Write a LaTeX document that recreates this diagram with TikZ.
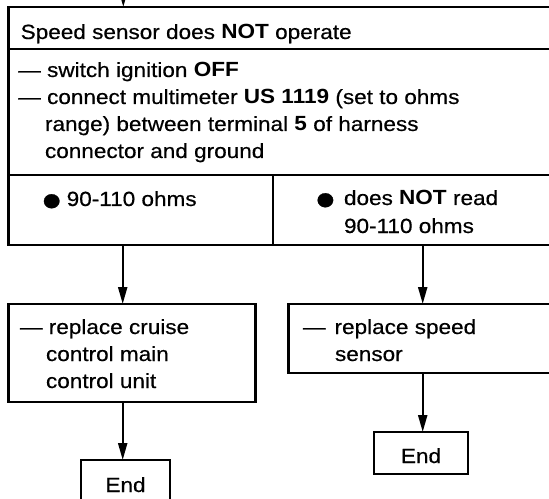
\documentclass[tikz,border=0pt]{standalone}
\usepackage{fontspec}
\setmainfont{Liberation Sans}[FakeStretch=1.1, UprightFeatures={FakeBold=0.5}]
\usetikzlibrary{arrows.meta}
\newcommand\bul{\makebox[12bp][c]{\raisebox{-12.5bp}{\fontsize{52bp}{52bp}\selectfont •}}}
\begin{document}
\begin{tikzpicture}[x=1bp,y=-1bp,
  box/.style={draw, line width=2.6bp, rectangle, inner sep=0pt, outer sep=0pt, anchor=north west},
  txt/.style={anchor=base west, inner sep=0pt, outer sep=0pt, font=\fontsize{20.5bp}{27bp}\selectfont},
  arr/.style={line width=2.2bp, -{Triangle[length=17bp,width=9bp]}},
]
\useasboundingbox (0,0) rectangle (549,499);
\fill[white] (0,0) rectangle (549,499);
% boxes
\node[box, minimum width=551.5bp, minimum height=42bp]  (head) at (8.5,7) {};
\node[box, minimum width=551.5bp, minimum height=126bp] (body) at (8.5,49) {};
\node[box, minimum width=264.5bp, minimum height=70bp]  (resL) at (8.5,175) {};
\node[box, minimum width=287bp, minimum height=70bp]    (resR) at (273,175) {};
\node[box, minimum width=247.2bp, minimum height=98bp]  (actL) at (8.5,304) {};
\node[box, minimum width=272bp, minimum height=69bp]    (actR) at (288.3,304) {};
\node[box, minimum width=89bp, minimum height=50bp]     (endL) at (81,460) {};
\node[box, minimum width=94bp, minimum height=42bp]     (endR) at (374,432) {};
% texts
\node[txt] (t1) at (20.7,39) {Speed sensor does \textbf{NOT} operate};
\node[txt] (t2) at (18.3,77) {— switch ignition \textbf{OFF}};
\node[txt] (t3) at (18.3,104) {— connect multimeter \textbf{US 1119} (set to ohms};
\node[txt] (t4) at (45,131) {range) between terminal \textbf{5} of harness};
\node[txt] (t5) at (45,158) {connector and ground};
\node[txt] (t6) at (45.7,206) {\bul\hspace{9bp}90-110 ohms};
\node[txt] (t7) at (319.4,205) {\bul\hspace{12.6bp}does \textbf{NOT} read};
\node[txt] (t8) at (344,233) {90-110 ohms};
\node[txt] (t9) at (20,334) {— replace cruise};
\node[txt] (t10) at (46,361) {control main};
\node[txt] (t11) at (46,388) {control unit};
\node[txt] (t12) at (303,334) {—\hspace{9bp}replace speed};
\node[txt] (t13) at (335,361) {sensor};
\node[txt, anchor=base] (t14) at (endL.north |- 0,492) {End};
\node[txt, anchor=base] (t15) at (endR.north |- 0,463) {End};
% arrows
\coordinate (inTop) at (123.3,-12);
\coordinate (xL) at (122.7,0);
\coordinate (xR) at (422.7,0);
\draw[arr] (inTop) -- (inTop |- head.north);
\draw[arr] (resL.south -| xL) -- (actL.north -| xL);
\draw[arr] (resR.south -| xR) -- (actR.north -| xR);
\draw[arr] (actL.south -| xL) -- (endL.north -| xL);
\draw[arr] (actR.south -| xR) -- (endR.north -| xR);
\end{tikzpicture}
\end{document}
